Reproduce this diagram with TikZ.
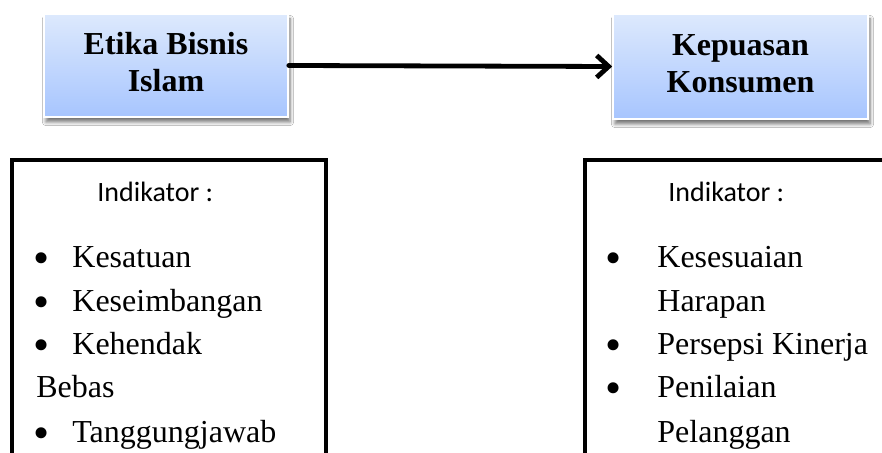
\documentclass[tikz,border=0pt]{standalone}
\usepackage{fontspec}
\setmainfont{Liberation Serif}
\newfontfamily\calibri{Carlito}
\usepackage{tikz}
\usetikzlibrary{arrows.meta,positioning,shadows.blur}
\definecolor{boxTop}{HTML}{DDE9FD}
\definecolor{boxBottom}{HTML}{A7C5FE}

\begin{document}
\begin{tikzpicture}[
  x=0.5pt, y=-0.5pt,
  varbox/.style={draw=white, line width=0.8pt, top color=boxTop, bottom color=boxBottom,
    align=center, font=\fontsize{16}{18.5}\selectfont\bfseries, inner sep=0pt,
    blur shadow={shadow xshift=1pt, shadow yshift=-2.5pt, shadow blur steps=6, shadow opacity=55}},
  indbox/.style={draw, line width=2pt},
  head/.style={font=\calibri\fontsize{14}{16}\selectfont, anchor=base west, inner sep=0pt},
  item/.style={font=\fontsize{16}{18}\selectfont, anchor=base west, inner sep=0pt},
  dot/.style={font=\fontsize{23}{24}\selectfont, anchor=base, inner sep=0pt, yshift=-3pt},
  arr/.style={-{Straight Barb[length=6pt, width=11pt]}, line width=2.4pt, line cap=round}
]
  \clip (0,0) rectangle (882,453);
  \fill[white] (0,0) rectangle (882,453);

  % variables
  \node[varbox, minimum width=122pt, minimum height=51.5pt] (etika) at (166,65.5)
    {\raisebox{2pt}{\begin{tabular}{@{}c@{}}Etika Bisnis\\Islam\end{tabular}}};
  \node[varbox, minimum width=127.5pt, minimum height=52.5pt] (kepuasan) at (740.5,66.5)
    {\raisebox{2pt}{\begin{tabular}{@{}c@{}}Kepuasan\\Konsumen\end{tabular}}};

  \draw[arr] (etika.east) -- (kepuasan.west);

  % indicator boxes
  \draw[indbox] (12,160) rectangle (326,470);
  \draw[indbox] (585,160) rectangle (900,470);

  % left indicators
  \node[head] (indA) at (97,202) {Indikator :};
  \node[dot] (a1b) at (42,268) {•};
  \node[item] (a1) at (72,268) {Kesatuan};
  \node[dot] (a2b) at (42,312) {•};
  \node[item] (a2) at (72,312) {Keseimbangan};
  \node[dot] (a3b) at (42,355) {•};
  \node[item] (a3) at (72,355) {Kehendak};
  \node[item] (a3c) at (36,398) {Bebas};
  \node[dot] (a4b) at (42,443) {•};
  \node[item] (a4) at (72,443) {Tanggungjawab};

  % right indicators
  \node[head] (indB) at (668,202) {Indikator :};
  \node[dot] (b1b) at (614,268) {•};
  \node[item] (b1) at (657,268) {Kesesuaian};
  \node[item] (b1c) at (657,312) {Harapan};
  \node[dot] (b2b) at (614,355) {•};
  \node[item] (b2) at (657,355) {Persepsi Kinerja};
  \node[dot] (b3b) at (614,398) {•};
  \node[item] (b3) at (657,398) {Penilaian};
  \node[item] (b3c) at (657,443) {Pelanggan};
\end{tikzpicture}
\end{document}
